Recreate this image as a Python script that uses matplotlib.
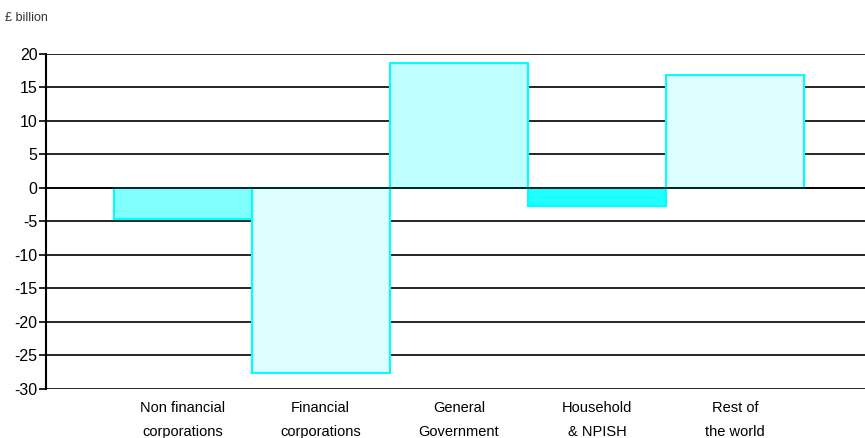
import matplotlib.pyplot as plt
import numpy as np

sectors = ['Non financial\ncorporations', 'Financial\ncorporations', 'General\nGovernment',
           'Household\n& NPISH', 'Rest of\nthe world']
values = [-4.6, -27.6, 18.6, -2.7, 16.8]
fills = ['#80FFFF', '#DDFFFF', '#BFFFFF', '#1FFFFF', '#DDFFFF']

plt.rcParams['font.family'] = ['Liberation Sans Narrow', 'Liberation Sans', 'DejaVu Sans']

fig = plt.figure(figsize=(8.65, 4.38), dpi=100)
ax = fig.add_axes([0.053, 0.112, 0.947, 0.765])

x = np.arange(len(sectors))
ax.bar(x, values, width=1.0, color=fills, edgecolor='#00FFFF', linewidth=1.5, zorder=2)

yt = np.arange(-30, 21, 5)
for v in yt:
    ax.axhline(v, color='black', linewidth=1.2, zorder=1)
ax.axhline(0, color='black', linewidth=1.2, zorder=3)

ax.set_ylim(-30, 20)
ax.set_xlim(-0.99, 4.94)
ax.set_yticks(yt)
ax.set_yticklabels([str(v) for v in yt], fontsize=11.5, family=['Liberation Sans', 'DejaVu Sans'])
ax.set_xticks(x)
ax.set_xticklabels(sectors, fontsize=10.5, linespacing=1.9)
ax.tick_params(axis='x', length=0, pad=9)
ax.tick_params(axis='y', length=5, width=1.2, pad=1, color='black')

for s in ['top', 'right', 'bottom']:
    ax.spines[s].set_visible(False)
ax.spines['left'].set_linewidth(1.5)

fig.text(0.006, 0.958, '£ billion', fontsize=9, color='#333333', va='center')

fig.savefig('out.png', dpi=100)
